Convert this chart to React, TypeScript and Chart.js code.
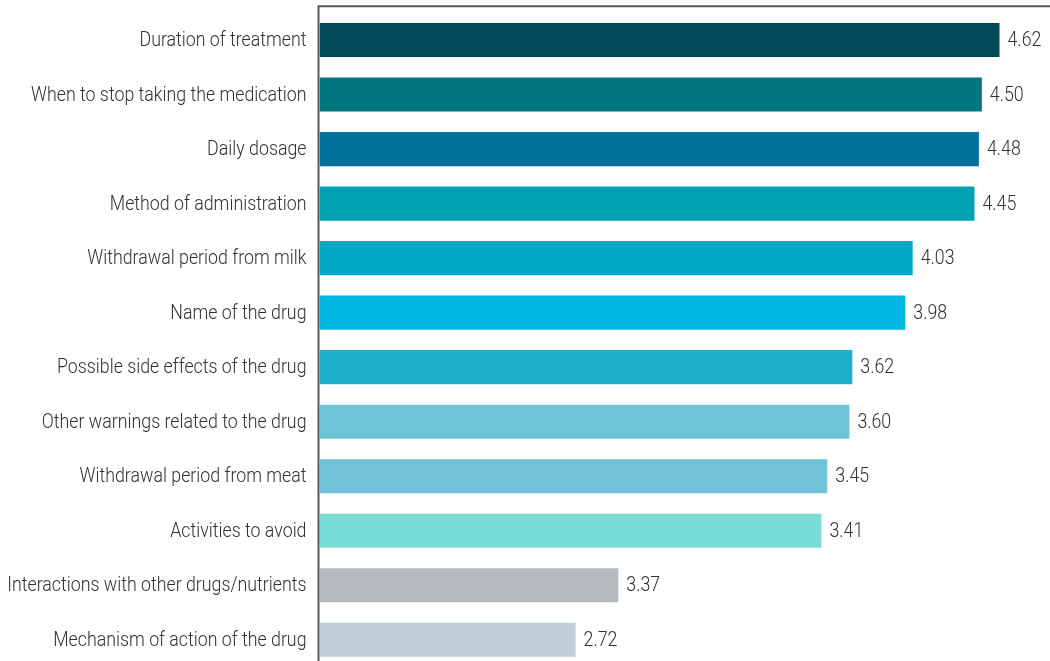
import React, { useEffect, useRef } from "react";
import { Chart, registerables } from "chart.js";

Chart.register(...registerables);

const categories = [
  "Duration of treatment",
  "When to stop taking the medication",
  "Daily dosage",
  "Method of administration",
  "Withdrawal period from milk",
  "Name of the drug",
  "Possible side effects of the drug",
  "Other warnings related to the drug",
  "Withdrawal period from meat",
  "Activities to avoid",
  "Interactions with other drugs/nutrients",
  "Mechanism of action of the drug",
];

// Bar lengths as drawn in the picture (last two bars are drawn shorter than their labels)
const barLengths = [4.62, 4.5, 4.48, 4.45, 4.03, 3.98, 3.62, 3.6, 3.45, 3.41, 2.03, 1.74];

// Values printed next to each bar
const valueLabels = ["4.62", "4.50", "4.48", "4.45", "4.03", "3.98", "3.62", "3.60", "3.45", "3.41", "3.37", "2.72"];

const barColors = [
  "#014b58",
  "#027680",
  "#02729a",
  "#00a1b0",
  "#00aac6",
  "#00b5e2",
  "#1eafcb",
  "#6ec3d8",
  "#6fc2d7",
  "#79dcd7",
  "#b5babd",
  "#c0ced7",
];

const FONT = 'Roboto, "DejaVu Sans", sans-serif';
const FONT_SIZE = 21;
const TEXT_COLOR = "#303030";

export default function App() {
  const ref = useRef<HTMLCanvasElement | null>(null);

  useEffect(() => {
    if (!ref.current) return;

    const condensedText = (ctx: any, text: string, x: number, y: number, align: "left" | "right", sx: number) => {
      ctx.save();
      ctx.translate(x, y);
      ctx.scale(sx, 1);
      ctx.textAlign = align;
      ctx.fillText(text, 0, 0);
      ctx.restore();
    };

    const framePlugin = {
      id: "frame",
      afterDraw(chart: any) {
        const { ctx, chartArea } = chart;
        ctx.save();
        ctx.strokeStyle = "#5a5a5a";
        ctx.lineWidth = 2;
        ctx.beginPath();
        ctx.moveTo(chartArea.left - 1, chart.height);
        ctx.lineTo(chartArea.left - 1, chartArea.top - 6.5);
        ctx.lineTo(chart.width, chartArea.top - 6.5);
        ctx.stroke();
        ctx.restore();
      },
    };

    const textPlugin = {
      id: "texts",
      afterDatasetsDraw(chart: any) {
        const { ctx, chartArea } = chart;
        const meta = chart.getDatasetMeta(0);
        const yScale = chart.scales.y;
        ctx.save();
        ctx.fillStyle = TEXT_COLOR;
        ctx.font = `300 ${FONT_SIZE}px ${FONT}`;
        ctx.textBaseline = "middle";
        // condense to the narrow look of the reference typeface
        const sx = 167 / ctx.measureText(categories[0]).width;
        categories.forEach((c, i) => {
          const y = yScale.getPixelForValue(i);
          condensedText(ctx, c, chartArea.left - 13, y + 1, "right", sx);
        });
        meta.data.forEach((bar: any, i: number) => {
          condensedText(ctx, valueLabels[i], bar.x + 8, bar.y + 1, "left", sx);
        });
        ctx.restore();
      },
    };

    const chart = new Chart(ref.current, {
      type: "bar",
      data: {
        labels: categories,
        datasets: [
          {
            data: barLengths,
            backgroundColor: barColors,
            borderWidth: 0,
            categoryPercentage: 0.625,
            barPercentage: 1,
          },
        ],
      },
      options: {
        indexAxis: "y",
        animation: false,
        responsive: false,
        maintainAspectRatio: false,
        layout: { padding: { top: 12.8, right: 0, bottom: 0, left: 0 } },
        plugins: {
          legend: { display: false },
          tooltip: { enabled: false },
        },
        scales: {
          x: {
            display: false,
            min: 0,
            max: 4.963,
          },
          y: {
            afterFit(scale: any) {
              scale.width = 319.5;
            },
            grid: { display: false },
            border: { display: false },
            ticks: { display: false },
          },
        },
      },
      plugins: [framePlugin, textPlugin],
    });
    return () => chart.destroy();
  }, []);

  return (
    <div style={{ position: "fixed", left: 0, top: 0, width: 1050, height: 667, background: "#fff" }}>
      <canvas ref={ref} width={1050} height={667} style={{ display: "block" }} />
    </div>
  );
}
